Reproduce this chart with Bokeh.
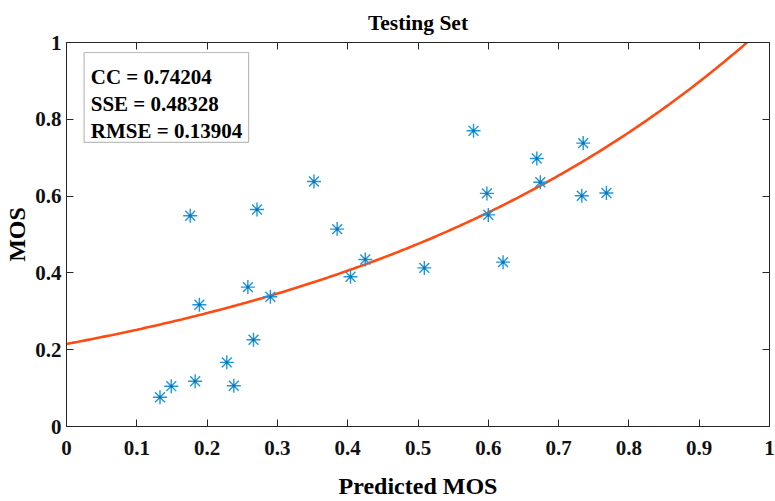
import numpy as np
from bokeh.plotting import figure
from bokeh.models import Range1d, FixedTicker, LinearAxis, Label, BoxAnnotation, CustomJSTickFormatter
from bokeh.embed import file_html
from bokeh.resources import INLINE

# ---- data ----
predicted = [0.133, 0.149, 0.183, 0.189, 0.228, 0.238, 0.258, 0.266, 0.290,
             0.404, 0.425, 0.176, 0.271, 0.352, 0.385, 0.579, 0.598, 0.600,
             0.669, 0.674, 0.735, 0.733, 0.768, 0.509, 0.621]
mos = [0.076, 0.105, 0.118, 0.317, 0.167, 0.106, 0.363, 0.226, 0.338,
       0.390, 0.435, 0.549, 0.565, 0.638, 0.514, 0.770, 0.607, 0.551,
       0.698, 0.636, 0.738, 0.601, 0.608, 0.413, 0.428]

# exponential fit y = a * exp(b * x)
fit_a = 0.215
fit_b = 1.588

x_ticks = [0, 0.1, 0.2, 0.3, 0.4, 0.5, 0.6, 0.7, 0.8, 0.9, 1]
x_tick_labels = ["0", "0.1", "0.2", "0.3", "0.4", "0.5", "0.6", "0.7", "0.8", "0.9", "1"]
y_ticks = [0, 0.2, 0.4, 0.6, 0.8, 1]
y_tick_labels = ["0", "0.2", "0.4", "0.6", "0.8", "1"]
stats_lines = ["CC = 0.74204", "SSE = 0.48328", "RMSE = 0.13904"]

FONT = "Liberation Serif"
AX = "#262626"

p = figure(width=775, height=501, output_backend="svg", toolbar_location=None,
           x_range=Range1d(0, 1), y_range=Range1d(0, 1),
           min_border_left=66, min_border_right=6, min_border_top=42, min_border_bottom=75,
           title="Testing Set")
p.title.align = "center"
p.title.text_font = FONT
p.title.text_font_style = "bold"
p.title.text_font_size = "21.5px"
p.title.text_color = "black"
p.title.standoff = 16
p.xgrid.visible = False
p.ygrid.visible = False
p.outline_line_color = AX
p.background_fill_color = "white"
p.border_fill_color = "white"

for ax in (p.xaxis[0], p.yaxis[0]):
    ax.axis_line_color = AX
    ax.major_tick_line_color = AX
    ax.minor_tick_line_color = None
    ax.major_tick_in = 7
    ax.major_tick_out = 0
    ax.major_label_text_font = FONT
    ax.major_label_text_font_style = "bold"
    ax.major_label_text_font_size = "21px"
    ax.major_label_text_color = "#111111"
    ax.axis_label_text_font = FONT
    ax.axis_label_text_font_style = "bold"
    ax.axis_label_text_font_size = "24px"
    ax.axis_label_text_color = "black"

p.xaxis.ticker = FixedTicker(ticks=x_ticks)
p.xaxis.major_label_overrides = {t: l for t, l in zip(x_ticks, x_tick_labels)}
p.yaxis.ticker = FixedTicker(ticks=y_ticks)
p.yaxis.major_label_overrides = {t: l for t, l in zip(y_ticks, y_tick_labels)}
p.xaxis.axis_label = "Predicted MOS"
p.yaxis.axis_label = "MOS"
p.xaxis.major_label_standoff = 14
p.xaxis.axis_label_standoff = 15
p.yaxis.major_label_standoff = 5
p.yaxis.axis_label_standoff = 2

empty = CustomJSTickFormatter(code="return ''")
top_ax = LinearAxis(ticker=FixedTicker(ticks=x_ticks), formatter=empty)
right_ax = LinearAxis(ticker=FixedTicker(ticks=y_ticks), formatter=empty)
for ax in (top_ax, right_ax):
    ax.axis_line_color = AX
    ax.major_tick_line_color = AX
    ax.minor_tick_line_color = None
    ax.major_tick_in = 7
    ax.major_tick_out = 0
    ax.major_label_standoff = 0
p.add_layout(top_ax, "above")
p.add_layout(right_ax, "right")

# fitted curve
xs = np.linspace(0, 1, 300)
p.line(xs, fit_a * np.exp(fit_b * xs), line_color="#FF4A12", line_width=2.6)

# data points
p.scatter(predicted, mos, marker="asterisk", size=14, line_color="#1E96DC", line_width=1.4)
p.scatter(predicted, mos, marker="circle", size=3, fill_color="#1670B0", line_color=None)

# stats box
p.add_layout(BoxAnnotation(left=0.025, right=0.259, bottom=0.740, top=0.974,
                           fill_color="white", fill_alpha=1.0,
                           line_color="#222222", line_width=1.2))
for i, s in enumerate(stats_lines):
    p.add_layout(Label(x=0.0345, y=0.909 - i * 0.0693, text=s,
                       text_font=FONT, text_font_style="bold", text_font_size="21px",
                       text_color="black", text_baseline="alphabetic"))

open("out.html", "w").write(file_html(p, INLINE))
